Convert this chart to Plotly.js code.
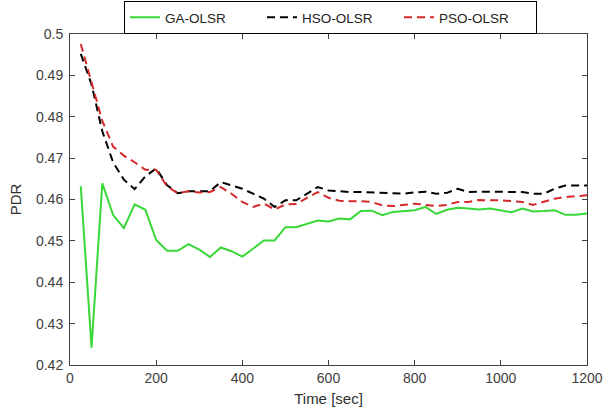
<!DOCTYPE html>
<html>
<head>
<meta charset="utf-8">
<script src="https://cdn.plot.ly/plotly-3.0.1.min.js"></script>
<style>html,body{margin:0;padding:0;background:#fff;}#chart{width:603px;height:410px;}</style>
</head>
<body>
<div id="chart"></div>
<script>
const timeSec = [25,50,75,100,125,150,175,200,225,250,275,300,325,350,375,400,425,450,475,500,
  525,550,575,600,625,650,675,700,725,750,775,800,825,850,875,900,925,950,975,1000,
  1025,1050,1075,1100,1125,1150,1175,1200];
const gaOlsr = [0.4632,0.4242,0.4639,0.4563,0.4531,0.4588,0.4575,0.4502,0.4476,0.4476,0.4492,0.4479,
  0.4461,0.4484,0.4475,0.4462,0.4481,0.4501,0.4501,0.4533,0.4533,0.4541,0.4549,0.4547,
  0.4554,0.4552,0.4572,0.4573,0.4562,0.4570,0.4572,0.4574,0.4582,0.4565,0.4575,0.4580,
  0.4578,0.4576,0.4578,0.4574,0.4569,0.4578,0.4571,0.4572,0.4574,0.4563,0.4563,0.4566];
const hsoOlsr = [0.4952,0.4878,0.4765,0.4690,0.4648,0.4625,0.4656,0.4675,0.4635,0.4615,0.4620,0.4620,
  0.4620,0.4642,0.4634,0.4626,0.4614,0.4602,0.4582,0.4598,0.4598,0.4614,0.4630,0.4622,
  0.4620,0.4618,0.4618,0.4617,0.4616,0.4614,0.4614,0.4617,0.4619,0.4614,0.4616,0.4626,
  0.4618,0.4619,0.4619,0.4619,0.4619,0.4618,0.4614,0.4614,0.4626,0.4634,0.4634,0.4634];
const psoOlsr = [0.4976,0.4886,0.4790,0.4728,0.4706,0.4690,0.4672,0.4672,0.4632,0.4615,0.4620,0.4617,
  0.4618,0.4630,0.4614,0.4594,0.4582,0.4590,0.4576,0.4588,0.4589,0.4604,0.4618,0.4604,
  0.4597,0.4596,0.4596,0.4594,0.4586,0.4584,0.4587,0.4590,0.4587,0.4584,0.4587,0.4594,
  0.4594,0.4599,0.4598,0.4598,0.4596,0.4594,0.4587,0.4594,0.4602,0.4606,0.4608,0.4610];
const seriesNames = ['GA-OLSR','HSO-OLSR','PSO-OLSR'];
const xTicks = [0,200,400,600,800,1000,1200];
const yTicks = [0.42,0.43,0.44,0.45,0.46,0.47,0.48,0.49,0.5];

const fam = 'Liberation Sans, Arial, sans-serif';
const font = {family: fam, size: 14, color: '#404040'};
const traces = [
  {x: timeSec, y: gaOlsr, name: seriesNames[0], mode: 'lines', line: {color: '#38d838', width: 2}},
  {x: timeSec, y: hsoOlsr, name: seriesNames[1], mode: 'lines', line: {color: '#000000', width: 2, dash: '8px,5px'}},
  {x: timeSec, y: psoOlsr, name: seriesNames[2], mode: 'lines', line: {color: '#d42a2a', width: 2, dash: '8px,5px'}}
];
const axisCommon = {
  showgrid: false, zeroline: false, showline: true, mirror: 'ticks',
  linecolor: '#404040', linewidth: 1, ticks: 'inside', ticklen: 5, tickcolor: '#404040',
  tickfont: font
};
const layout = {
  width: 603, height: 410,
  margin: {l: 70, r: 16, t: 30, b: 45},
  paper_bgcolor: '#ffffff', plot_bgcolor: '#ffffff',
  font: font,
  showlegend: true,
  legend: {
    orientation: 'h', x: 0.1044, xanchor: 'left',
    yref: 'container', y: 0.9976, yanchor: 'top',
    bordercolor: '#000000', borderwidth: 1, bgcolor: '#ffffff',
    font: {family: fam, size: 13.5, color: '#222'},
    entrywidth: 92, entrywidthmode: 'pixels', itemwidth: 30, tracegroupgap: 0
  },
  xaxis: Object.assign({}, axisCommon, {
    range: [0, 1200], tickvals: xTicks, ticktext: xTicks.map(String),
    title: {text: 'Time [sec]', font: {family: fam, size: 15, color: '#303030'}, standoff: 8}
  }),
  yaxis: Object.assign({}, axisCommon, {
    range: [0.42, 0.5], tickvals: yTicks, ticktext: yTicks.map(String),
    ticklabelstandoff: 3,
    title: {text: 'PDR', font: {family: fam, size: 15, color: '#303030'}, standoff: 10}
  })
};
Plotly.newPlot('chart', traces, layout, {displayModeBar: false, staticPlot: true});
</script>
</body>
</html>
